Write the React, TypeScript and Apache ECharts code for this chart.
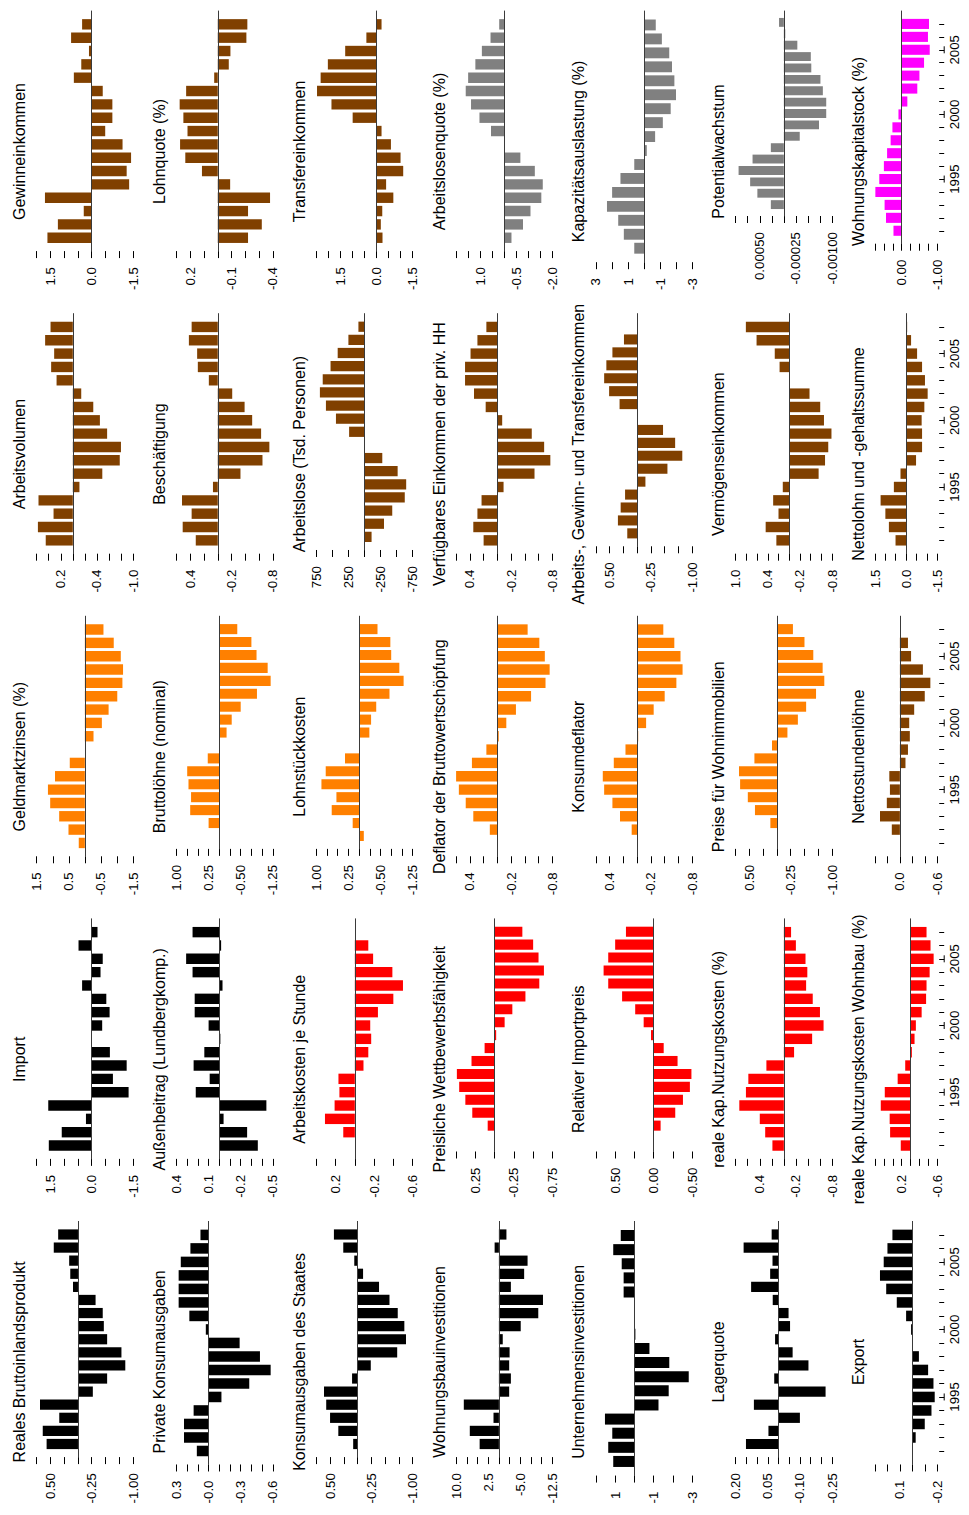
import React, { useEffect, useRef } from 'react';
import * as echarts from 'echarts';

// ---------- categories ----------
const YEARS = ['1991', '1992', '1993', '1994', '1995', '1996', '1997', '1998', '1999', '2000', '2001', '2002', '2003', '2004', '2005', '2006', '2007'];
const YEAR_LABELS = ['1995', '2000', '2005'];

// ---------- series values (1991 .. 2007) ----------
const gewinneinkommen = [1.61, 1.23, 0.29, 1.70, -1.36, -1.27, -1.43, -1.12, -0.49, -0.75, -0.75, -0.40, 0.65, 0.38, 0.10, 0.75, 0.35];
const lohnquote = [-0.22, -0.32, -0.22, -0.38, -0.09, 0.115, 0.236, 0.274, 0.22, 0.25, 0.277, 0.23, 0.026, -0.08, -0.092, -0.208, -0.215];
const transfereinkommen = [-0.25, -0.18, -0.24, -0.70, -0.40, -1.11, -1.00, -0.60, -0.21, 0.99, 1.87, 2.47, 2.32, 2.02, 1.30, 0.42, -0.21];
const arbeitslosenquote = [-0.30, -0.78, -1.09, -1.54, -1.60, -1.27, -0.67, 0, 0.55, 1.03, 1.38, 1.60, 1.50, 1.20, 0.93, 0.57, 0.21];
const kapazitaet = [0.61, 1.26, 1.61, 2.31, 1.99, 1.47, 0.61, -0.17, -0.69, -1.17, -1.66, -1.99, -1.89, -1.74, -1.57, -1.11, -0.73];
const potentialwachstum = [0.00027, 0.00055, 0.0007, 0.00094, 0.00065, 0.00027, -0.00033, -0.00073, -0.00088, -0.00088, -0.00081, -0.00076, -0.00057, -0.00056, -0.00028, -0.00003, 0.0001];
const wohnungskapitalstock = [0.23, 0.44, 0.48, 0.74, 0.63, 0.50, 0.41, 0.31, 0.26, 0.09, -0.16, -0.44, -0.50, -0.63, -0.79, -0.74, -0.77];

const arbeitsvolumen = [0.45, 0.58, 0.32, 0.57, -0.11, -0.49, -0.78, -0.80, -0.57, -0.45, -0.34, -0.14, 0.27, 0.36, 0.31, 0.46, 0.37];
const beschaeftigung = [0.32, 0.51, 0.38, 0.52, 0.07, -0.33, -0.65, -0.75, -0.63, -0.50, -0.39, -0.21, 0.13, 0.29, 0.30, 0.42, 0.38];
const arbeitslose = [-111, -305, -433, -628, -650, -517, -278, 0, 239, 444, 600, 694, 650, 528, 417, 250, 94];
const verfuegbaresEinkommen = [0.20, 0.35, 0.29, 0.23, -0.09, -0.54, -0.77, -0.68, -0.50, -0.07, 0.17, 0.34, 0.47, 0.47, 0.39, 0.29, 0.16];
const arbeitsGewinnTransfer = [0.18, 0.35, 0.30, 0.22, -0.15, -0.55, -0.82, -0.69, -0.47, 0, 0.32, 0.51, 0.60, 0.56, 0.45, 0.24, null];
const vermoegenseinkommen = [0.24, 0.44, 0.20, 0.30, 0.12, -0.55, -0.67, -0.73, -0.79, -0.65, -0.58, -0.38, 0, 0.18, 0.27, 0.61, 0.81];
const nettolohnsumme = [0.51, 0.83, 1.00, 1.23, 0.59, 0.27, -0.48, -0.77, -0.77, -0.75, -0.88, -1.04, -0.91, -0.77, -0.53, -0.24, -0.05];

const geldmarktzinsen = [0.19, 0.51, 0.80, 1.08, 1.15, 0.93, 0.47, 0, -0.27, -0.53, -0.74, -1.01, -1.17, -1.19, -1.12, -0.90, -0.58];
const bruttoloehne = [null, 0.25, 0.68, 0.66, 0.72, 0.75, 0.27, 0, -0.17, -0.29, -0.50, -0.88, -1.20, -1.13, -0.87, -0.75, -0.42];
const lohnstueckkosten = [-0.11, 0.15, 0.64, 0.53, 0.88, 0.78, 0.33, 0, -0.24, -0.28, -0.40, -0.71, -1.04, -0.94, -0.75, -0.73, -0.43];
const deflatorBWS = [null, 0.11, 0.35, 0.46, 0.56, 0.60, 0.37, 0.16, -0.02, -0.13, -0.27, -0.49, -0.70, -0.76, -0.69, -0.61, -0.44];
const konsumdeflator = [null, 0.08, 0.25, 0.36, 0.48, 0.50, 0.34, 0.17, -0.015, -0.13, -0.24, -0.40, -0.57, -0.66, -0.63, -0.54, -0.38];
const preiseWohnimmobilien = [null, 0.12, 0.40, 0.53, 0.67, 0.69, 0.41, 0.09, -0.19, -0.38, -0.53, -0.71, -0.86, -0.83, -0.66, -0.50, -0.29];
const nettostundenloehne = [null, 0.13, 0.32, 0.21, 0.16, 0.17, -0.09, -0.13, -0.16, -0.15, -0.23, -0.40, -0.49, -0.37, -0.18, -0.13, null];

const importe = [1.56, 1.09, 0.21, 1.58, -1.34, -0.77, -1.27, -0.66, 0, -0.38, -0.65, -0.53, 0.35, -0.32, -0.40, 0.48, -0.21];
const aussenbeitrag = [-0.36, -0.26, -0.04, -0.44, 0.22, 0.09, 0.24, 0.14, -0.01, 0.10, 0.23, 0.23, -0.03, 0.25, 0.31, -0.017, 0.25];
const arbeitskosten = [null, 0.12, 0.31, 0.21, 0.16, 0.17, -0.09, -0.14, -0.17, -0.16, -0.24, -0.40, -0.50, -0.39, -0.19, -0.14, null];
const wettbewerb = [null, 0.09, 0.29, 0.38, 0.46, 0.49, 0.30, 0.13, -0.02, -0.13, -0.23, -0.40, -0.58, -0.64, -0.57, -0.50, -0.36];
const relImportpreis = [null, -0.09, -0.28, -0.38, -0.47, -0.49, -0.31, -0.13, 0.035, 0.13, 0.24, 0.41, 0.59, 0.65, 0.59, 0.50, 0.36];
const kapNutzungskosten = [0.19, 0.31, 0.40, 0.74, 0.63, 0.59, 0.29, -0.17, -0.47, -0.66, -0.60, -0.48, -0.37, -0.39, -0.36, -0.20, -0.12];
const kapNutzungskostenWohnbau = [0.22, 0.46, 0.47, 0.67, 0.58, 0.29, 0.12, -0.03, -0.09, -0.12, -0.25, -0.35, -0.36, -0.43, -0.52, -0.45, -0.36];

const realesBIP = [0.57, 0.64, 0.34, 0.69, -0.27, -0.53, -0.86, -0.79, -0.53, -0.47, -0.45, -0.32, 0.09, 0.14, 0.16, 0.44, 0.36];
const privKonsum = [0.11, 0.23, 0.23, 0.14, -0.12, -0.38, -0.58, -0.48, -0.29, 0.026, 0.18, 0.28, 0.28, 0.28, 0.26, 0.17, 0.076];
const staatKonsum = [0.08, 0.35, 0.50, 0.57, 0.61, 0.10, -0.24, -0.72, -0.88, -0.85, -0.73, -0.58, -0.39, -0.10, 0.06, 0.26, 0.43];
const wohnungsbau = [4.5, 6.8, 1.26, 8.2, -2.4, -2.8, -2.4, -2.5, -0.9, -5.1, -9.2, -10.3, -2.8, -5.9, -6.7, 1.0, -1.76];
const unternehmensinv = [1.10, 1.36, 1.15, 1.53, -1.25, -1.78, -2.82, -1.81, -0.78, -0.05, 0, 0, 0.56, 0.56, 0.66, 1.10, 0.71];
const lagerquote = [0.152, 0.047, -0.10, 0.115, -0.22, 0.02, -0.14, -0.066, 0.016, -0.054, -0.047, 0.027, 0.128, 0.039, 0.028, 0.163, 0.032];
const exporte = [null, -0.027, -0.10, -0.154, -0.18, -0.17, -0.127, -0.053, 0, 0.01, 0.05, 0.125, 0.21, 0.26, 0.23, 0.20, 0.16];

// ---------- tick specs [max, min, step] and tick labels ----------
const T_2_m15 = [2, -1.5, 0.5];
const L_15_0_m15 = ['1.5', '0.0', '-1.5'];

// ---------- colours ----------
const BLACK = '#000000';
const RED = '#FF0000';
const ORANGE = '#FF8000';
const BROWN = '#804000';
const GRAY = '#808080';
const MAGENTA = '#FF00FF';

type Panel = { title: string; values: (number | null)[]; ticks: number[]; labels: string[]; color: string };

const PANELS: Panel[] = [
  { title: 'Gewinneinkommen', values: gewinneinkommen, ticks: T_2_m15, labels: L_15_0_m15, color: BROWN },
  { title: 'Lohnquote (%)', values: lohnquote, ticks: [0.3, -0.4, 0.1], labels: ['0.2', '-0.1', '-0.4'], color: BROWN },
  { title: 'Transfereinkommen', values: transfereinkommen, ticks: [2.5, -1.5, 0.5], labels: L_15_0_m15, color: BROWN },
  { title: 'Arbeitslosenquote (%)', values: arbeitslosenquote, ticks: [2, -2, 0.5], labels: ['1.0', '-0.5', '-2.0'], color: GRAY },
  { title: 'Kapazitätsauslastung (%)', values: kapazitaet, ticks: [3, -3, 1], labels: ['3', '1', '-1', '-3'], color: GRAY },
  { title: 'Potentialwachstum', values: potentialwachstum, ticks: [0.001, -0.001, 0.00025], labels: ['0.00050', '-0.00025', '-0.00100'], color: GRAY },
  { title: 'Wohnungskapitalstock (%)', values: wohnungskapitalstock, ticks: [0.75, -1, 0.25], labels: ['0.00', '-1.00'], color: MAGENTA },

  { title: 'Arbeitsvolumen', values: arbeitsvolumen, ticks: [0.6, -1, 0.2], labels: ['0.2', '-0.4', '-1.0'], color: BROWN },
  { title: 'Beschäftigung', values: beschaeftigung, ticks: [0.6, -0.8, 0.2], labels: ['0.4', '-0.2', '-0.8'], color: BROWN },
  { title: 'Arbeitslose (Tsd. Personen)', values: arbeitslose, ticks: [750, -750, 250], labels: ['750', '250', '-250', '-750'], color: BROWN },
  { title: 'Verfügbares Einkommen der priv. HH', values: verfuegbaresEinkommen, ticks: [0.6, -0.8, 0.2], labels: ['0.4', '-0.2', '-0.8'], color: BROWN },
  { title: 'Arbeits-, Gewinn- und Transfereinkommen', values: arbeitsGewinnTransfer, ticks: [0.75, -1, 0.25], labels: ['0.50', '-0.25', '-1.00'], color: BROWN },
  { title: 'Vermögenseinkommen', values: vermoegenseinkommen, ticks: [1, -0.8, 0.2], labels: ['1.0', '0.4', '-0.2', '-0.8'], color: BROWN },
  { title: 'Nettolohn und -gehaltssumme', values: nettolohnsumme, ticks: [1.5, -1.5, 0.5], labels: L_15_0_m15, color: BROWN },

  { title: 'Geldmarktzinsen (%)', values: geldmarktzinsen, ticks: [1.5, -1.5, 0.5], labels: ['1.5', '0.5', '-0.5', '-1.5'], color: ORANGE },
  { title: 'Bruttolöhne (nominal)', values: bruttoloehne, ticks: [1, -1.25, 0.25], labels: ['1.00', '0.25', '-0.50', '-1.25'], color: ORANGE },
  { title: 'Lohnstückkosten', values: lohnstueckkosten, ticks: [1, -1.25, 0.25], labels: ['1.00', '0.25', '-0.50', '-1.25'], color: ORANGE },
  { title: 'Deflator der Bruttowertschöpfung', values: deflatorBWS, ticks: [0.6, -0.8, 0.2], labels: ['0.4', '-0.2', '-0.8'], color: ORANGE },
  { title: 'Konsumdeflator', values: konsumdeflator, ticks: [0.6, -0.8, 0.2], labels: ['0.4', '-0.2', '-0.8'], color: ORANGE },
  { title: 'Preise für Wohnimmobilien', values: preiseWohnimmobilien, ticks: [0.75, -1, 0.25], labels: ['0.50', '-0.25', '-1.00'], color: ORANGE },
  { title: 'Nettostundenlöhne', values: nettostundenloehne, ticks: [0.4, -0.6, 0.2], labels: ['0.0', '-0.6'], color: BROWN },

  { title: 'Import', values: importe, ticks: T_2_m15, labels: L_15_0_m15, color: BLACK },
  { title: 'Außenbeitrag (Lundbergkomp.)', values: aussenbeitrag, ticks: [0.4, -0.5, 0.1], labels: ['0.4', '0.1', '-0.2', '-0.5'], color: BLACK },
  { title: 'Arbeitskosten je Stunde', values: arbeitskosten, ticks: [0.4, -0.6, 0.2], labels: ['0.2', '-0.2', '-0.6'], color: RED },
  { title: 'Preisliche Wettbewerbsfähigkeit', values: wettbewerb, ticks: [0.5, -0.75, 0.25], labels: ['0.25', '-0.25', '-0.75'], color: RED },
  { title: 'Relativer Importpreis', values: relImportpreis, ticks: [0.75, -0.5, 0.25], labels: ['0.50', '0.00', '-0.50'], color: RED },
  { title: 'reale Kap.Nutzungskosten (%)', values: kapNutzungskosten, ticks: [0.8, -0.8, 0.2], labels: ['0.4', '-0.2', '-0.8'], color: RED },
  { title: 'reale Kap.Nutzungskosten Wohnbau (%)', values: kapNutzungskostenWohnbau, ticks: [0.8, -0.6, 0.2], labels: ['0.2', '-0.6'], color: RED },

  { title: 'Reales Bruttoinlandsprodukt', values: realesBIP, ticks: [0.75, -1, 0.25], labels: ['0.50', '-0.25', '-1.00'], color: BLACK },
  { title: 'Private Konsumausgaben', values: privKonsum, ticks: [0.3, -0.6, 0.1], labels: ['0.3', '-0.0', '-0.3', '-0.6'], color: BLACK },
  { title: 'Konsumausgaben des Staates', values: staatKonsum, ticks: [0.75, -1, 0.25], labels: ['0.50', '-0.25', '-1.00'], color: BLACK },
  { title: 'Wohnungsbauinvestitionen', values: wohnungsbau, ticks: [10, -12.5, 2.5], labels: ['10.0', '2.5', '-5.0', '-12.5'], color: BLACK },
  { title: 'Unternehmensinvestitionen', values: unternehmensinv, ticks: [2, -3, 1], labels: ['1', '-1', '-3'], color: BLACK },
  { title: 'Lagerquote', values: lagerquote, ticks: [0.2, -0.25, 0.05], labels: ['0.20', '0.05', '-0.10', '-0.25'], color: BLACK },
  { title: 'Export', values: exporte, ticks: [0.3, -0.2, 0.1], labels: ['0.1', '-0.2'], color: BLACK },
];

// ---------- layout ----------
const FONT = '"Liberation Sans", Arial, Helvetica, sans-serif';
const COLS = 7;
const COL_W = 139.8;
const ROW_H = 302.6;
const TITLE_X = 19.6;
const TITLE_Y = 151.5;
const PLOT_TOP = 11;
const AXIS_LEFT = 36.7;
const AXIS_WIDTH = 96.3;
const LAST_AXIS_LEFT = 36.2;
const LAST_AXIS_WIDTH = 62.2;
const LABEL_EDGE = 274;
const LAST_ROW_SHIFT = 3;
const TICK_FONT = 13.3;
const TITLE_FONT = 16;
const YEAR_AXIS_OFFSET = 2;
const YEAR_TICK_LEN = 5;
const MAJOR_MARK_HALF = 3.5;
const BOTTOM_OVERRIDE: Record<string, number> = { Potentialwachstum: 216 };

const CATS = ['', ...YEARS, ' '];

function labelWidth(s: string): number {
  let em = 0;
  for (const ch of s) em += ch === '-' ? 0.333 : ch === '.' ? 0.278 : 0.556;
  return em * TICK_FONT;
}

function buildOption() {
  const grid: any[] = [];
  const xAxis: any[] = [];
  const yAxis: any[] = [];
  const series: any[] = [];
  const graphic: any[] = [];
  const yearAxes: { yAxisIndex: number; right: number }[] = [];

  PANELS.forEach((p, i) => {
    const r = Math.floor(i / COLS);
    const c = i % COLS;
    const last = c === COLS - 1;
    const x0 = c * COL_W;
    const y0 = r * ROW_H;
    const lw = Math.max(...p.labels.map(labelWidth));
    const bottom = BOTTOM_OVERRIDE[p.title] ?? LABEL_EDGE - lw + (r === 4 ? LAST_ROW_SHIFT : 0);
    const left = x0 + (last ? LAST_AXIS_LEFT : AXIS_LEFT);
    const width = last ? LAST_AXIS_WIDTH : AXIS_WIDTH;
    grid.push({
      left,
      top: y0 + PLOT_TOP,
      width,
      height: bottom - PLOT_TOP,
      containLabel: false,
      outerBoundsMode: 'none',
    });
    const [hi, lo, step] = p.ticks;
    const labelVals = p.labels.map((l) => parseFloat(l));
    xAxis.push({
      type: 'value',
      gridIndex: i,
      inverse: true,
      min: lo,
      max: hi,
      interval: step,
      position: 'bottom',
      axisLine: { show: false, onZero: false },
      axisTick: { show: true, length: 7, lineStyle: { color: '#000', width: 1 } },
      splitLine: { show: false },
      axisLabel: {
        show: true,
        rotate: 90,
        margin: 16,
        fontSize: TICK_FONT,
        fontFamily: FONT,
        color: '#000',
        hideOverlap: false,
        formatter: (v: number) => {
          const k = labelVals.findIndex((l) => Math.abs(l - v) < step * 1e-3);
          return k < 0 ? '' : p.labels[k];
        },
      },
    });
    const yIndex = yAxis.length;
    yAxis.push({
      type: 'category',
      gridIndex: i,
      data: CATS,
      boundaryGap: false,
      position: 'left',
      z: 5,
      axisLine: { show: true, onZero: true, lineStyle: { color: '#3a3a3a', width: 1 } },
      axisTick: { show: false },
      axisLabel: { show: false },
      splitLine: { show: false },
    });
    if (last) {
      yearAxes.push({ yAxisIndex: yAxis.length, right: left + width });
      yAxis.push({
        type: 'category',
        gridIndex: i,
        data: CATS,
        boundaryGap: false,
        position: 'right',
        offset: YEAR_AXIS_OFFSET,
        axisLine: { show: false, onZero: false },
        axisTick: {
          show: true,
          length: YEAR_TICK_LEN,
          interval: (idx: number) => idx >= 1 && idx <= YEARS.length,
          lineStyle: { color: '#000', width: 1 },
        },
        axisLabel: {
          show: true,
          rotate: 90,
          margin: 9,
          interval: (_idx: number, val: string) => YEAR_LABELS.includes(val),
          fontSize: TICK_FONT,
          fontFamily: FONT,
          color: '#000',
        },
        splitLine: { show: false },
      });
    }
    series.push({
      type: 'bar',
      xAxisIndex: i,
      yAxisIndex: yIndex,
      data: [null, ...p.values, null],
      barCategoryGap: '22%',
      itemStyle: { color: p.color },
      silent: true,
    });
    graphic.push({
      type: 'text',
      x: x0 + TITLE_X,
      y: y0 + TITLE_Y,
      rotation: Math.PI / 2,
      silent: true,
      style: {
        text: p.title,
        fontSize: TITLE_FONT,
        fontFamily: FONT,
        fill: '#000',
        align: 'center',
        verticalAlign: 'middle',
      },
    });
  });

  return {
    option: {
      animation: false,
      backgroundColor: '#ffffff',
      grid,
      xAxis,
      yAxis,
      series,
      graphic,
    },
    graphic,
    yearAxes,
  };
}

export default function App() {
  const ref = useRef<HTMLDivElement>(null);
  useEffect(() => {
    if (!ref.current) return;
    const chart = echarts.init(ref.current, undefined, { renderer: 'svg' });
    const { option, graphic, yearAxes } = buildOption();
    chart.setOption(option as any);
    // small vertical marks next to the labelled years, positioned through the category scale
    const marks: any[] = [];
    yearAxes.forEach(({ yAxisIndex, right }) => {
      const x = right + YEAR_AXIS_OFFSET + YEAR_TICK_LEN;
      YEAR_LABELS.forEach((yr) => {
        const y = chart.convertToPixel({ yAxisIndex } as any, yr) as unknown as number;
        if (typeof y === 'number' && isFinite(y)) {
          marks.push({
            type: 'line',
            silent: true,
            shape: { x1: x, y1: y - MAJOR_MARK_HALF, x2: x, y2: y + MAJOR_MARK_HALF },
            style: { stroke: '#000', lineWidth: 1 },
          });
        }
      });
    });
    if (marks.length) chart.setOption({ graphic: [...graphic, ...marks] } as any);
    return () => chart.dispose();
  }, []);
  return (
    <div
      ref={ref}
      style={{ position: 'absolute', left: 0, top: 0, width: 969, height: 1515, background: '#fff' }}
    />
  );
}
